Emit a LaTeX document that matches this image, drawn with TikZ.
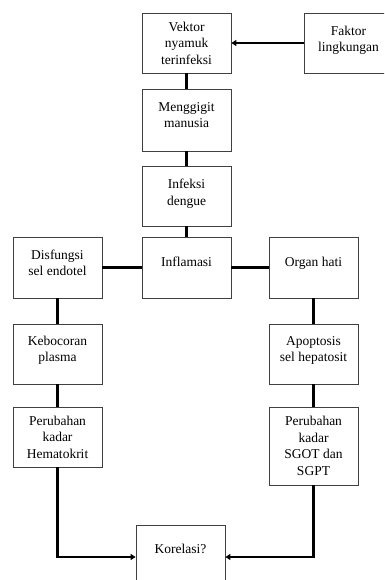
\documentclass[tikz,border=0pt]{standalone}
\usepackage{fontspec}
\setmainfont{Liberation Serif}
\usepackage{tikz}
\usetikzlibrary{arrows.meta}

\begin{document}
\begin{tikzpicture}[x=1pt,y=-1pt,
  kotak/.style={draw=black!75, line width=0.8pt, minimum width=89pt, inner sep=0pt,
    align=center, font=\fontsize{13.5}{16.5}\selectfont},
  naik/.style={text depth=#1},
  garis/.style={line width=2.6pt},
  panah/.style={line width=2.6pt, -{Triangle[length=5pt,width=6pt]}}]
\useasboundingbox (0,0) rectangle (384,580);
\clip (0,0) rectangle (384,580);
% boxes
\node[kotak, minimum height=60pt] (vektor) at (186.5,43) {Vektor\\nyamuk\\terinfeksi};
\node[kotak, minimum height=60pt, naik=8pt] (faktor) at (348.5,43) {Faktor\\lingkungan};
\node[kotak, minimum height=62pt, naik=10pt] (gigit) at (186.5,120) {Menggigit\\manusia};
\node[kotak, minimum height=60pt, naik=8pt] (infeksi) at (186.5,196) {Infeksi\\dengue};
\node[kotak, minimum height=61pt, naik=12pt] (inflamasi) at (186.5,267.5) {Inflamasi};
\node[kotak, minimum height=61pt, naik=10pt] (disfungsi) at (57.5,267.5) {Disfungsi\\sel endotel};
\node[kotak, minimum height=61pt, naik=12pt] (organ) at (313.5,267.5) {Organ hati};
\node[kotak, minimum height=60pt, naik=10pt] (bocor) at (57.5,354) {Kebocoran\\plasma};
\node[kotak, minimum height=60pt, naik=10pt] (apoptosis) at (313.5,354) {Apoptosis\\sel hepatosit};
\node[kotak, minimum height=60pt] (hematokrit) at (57.5,437) {Perubahan\\kadar\\Hematokrit};
\node[kotak, minimum height=78pt] (sgot) at (313.5,446) {Perubahan\\kadar\\SGOT dan\\SGPT};
\node[kotak, minimum height=60pt, naik=12pt] (korelasi) at (180.5,555) {Korelasi?};
% connectors
\draw[panah] (faktor) -- (vektor);
\draw[garis] (vektor) -- (gigit);
\draw[garis] (gigit) -- (infeksi);
\draw[garis] (infeksi) -- (inflamasi);
\draw[garis] (inflamasi) -- (disfungsi);
\draw[garis] (inflamasi) -- (organ);
\draw[garis] (disfungsi) -- (bocor);
\draw[garis] (bocor) -- (hematokrit);
\draw[garis] (organ) -- (apoptosis);
\draw[garis] (apoptosis) -- (sgot);
\draw[panah] (hematokrit.south) |- ([yshift=-2pt]korelasi.west);
\draw[panah] (sgot.south) |- ([yshift=-2pt]korelasi.east);
\end{tikzpicture}
\end{document}
